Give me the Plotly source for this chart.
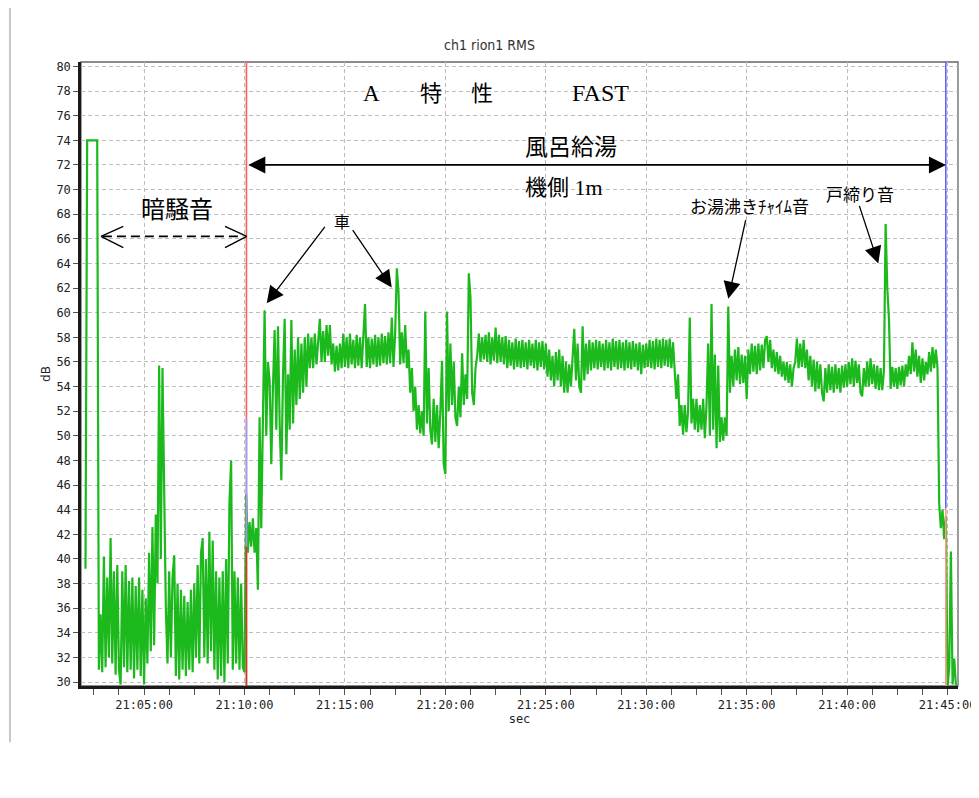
import pandas as pd
import plotly.graph_objects as go

# ---------------- data ----------------
# Sound level readings (dB), one list per minute of the clock (21:MM:00 .. 21:MM:55),
# 12 readings per list, 5 s apart. None = no reading.
BASE = pd.Timestamp("2024-01-01 21:00:00")
STEP_S = 5
FIRST_MINUTE = 2

m02 = [None, 39.2, 74.0, 74.0, 74.0, 74.0, 74.0, 74.0, 74.0, 31.0, 35.5, 30.8]
m03 = [40.2, 31.2, 38.5, 32.0, 41.7, 31.5, 39.0, 30.6, 39.5, 31.0, 29.8, 39.0]
m04 = [31.2, 39.5, 30.8, 38.2, 31.0, 38.5, 30.3, 37.8, 31.0, 38.5, 30.5, 37.5]
m05 = [29.8, 36.8, 31.5, 40.5, 32.5, 42.6, 33.0, 43.6, 38.0, 55.7, 40.0, 55.5]
m06 = [44.8, 36.0, 31.5, 39.0, 32.0, 38.5, 40.3, 30.5, 38.0, 30.2, 37.5, 31.0]
m07 = [37.0, 30.5, 36.5, 31.0, 37.5, 30.8, 38.0, 32.0, 39.5, 31.5, 40.5, 41.7]
m08 = [32.0, 40.0, 31.5, 42.2, 32.5, 41.5, 31.0, 39.0, 30.2, 38.5, 30.5, 39.0]
m09 = [30.0, 40.0, 31.5, 44.5, 48.0, 31.0, 39.0, 31.5, 38.5, 31.0, 38.0, 31.2]
m10 = [30.8, 45.3, 40.5, 43.0, 41.0, 43.3, 40.5, 42.5, 37.5, 51.5, 42.5, 50.0]
m11 = [60.2, 50.0, 56.0, 54.5, 47.7, 54.0, 58.6, 50.5, 58.9, 51.0, 46.4, 55.0]
m12 = [59.5, 48.5, 55.0, 50.5, 59.4, 51.0, 57.0, 52.5, 58.0, 53.0, 57.5, 53.5]
m13 = [58.0, 54.0, 58.3, 55.5, 58.0, 55.5, 58.3, 55.8, 58.0, 59.5, 56.0, 58.5]
m14 = [56.0, 59.0, 56.5, 59.0, 55.8, 57.5, 55.2, 57.3, 55.3, 57.5, 55.5, 58.3]
m15 = [55.6, 58.0, 55.5, 58.3, 55.8, 57.8, 55.5, 58.2, 55.7, 58.0, 55.5, 58.3]
m16 = [60.7, 55.6, 58.0, 55.5, 57.9, 55.8, 58.2, 55.6, 58.0, 55.7, 58.3, 55.9]
m17 = [58.1, 55.8, 58.4, 55.9, 59.6, 55.6, 58.3, 63.6, 61.7, 55.8, 58.4, 55.9]
m18 = [59.0, 55.5, 57.0, 53.5, 55.5, 52.0, 54.0, 50.5, 52.5, 50.2, 52.0, 50.0]
m19 = [60.1, 51.0, 55.5, 50.5, 49.3, 53.0, 49.5, 52.5, 49.0, 52.0, 56.1, 47.7]
m20 = [46.9, 60.1, 52.0, 57.5, 52.5, 56.0, 51.5, 50.8, 54.0, 51.5, 56.7, 52.5]
m21 = [55.0, 53.0, 63.2, 61.2, 53.5, 52.5, 55.5, 56.5, 58.3, 56.0, 58.0, 56.2]
m22 = [58.2, 56.0, 58.4, 55.8, 58.0, 56.1, 58.8, 55.9, 58.2, 56.0, 58.0, 55.8]
m23 = [58.1, 55.5, 57.8, 55.7, 57.6, 55.4, 57.9, 55.6, 57.7, 55.5, 57.8, 55.6]
m24 = [57.6, 55.4, 57.8, 55.7, 57.5, 55.5, 57.8, 55.3, 57.6, 55.6, 57.7, 55.4]
m25 = [57.5, 54.8, 57.0, 54.5, 56.5, 54.0, 56.8, 54.5, 57.0, 54.0, 56.5, 53.5]
m26 = [56.0, 53.5, 55.8, 54.0, 57.0, 58.7, 54.5, 57.5, 54.0, 53.5, 58.9, 54.5]
m27 = [57.5, 55.0, 57.8, 55.3, 57.6, 55.5, 57.8, 55.4, 57.7, 55.6, 57.5, 55.3]
m28 = [57.8, 55.5, 57.6, 55.3, 57.9, 55.6, 57.7, 55.4, 57.8, 55.5, 57.6, 55.3]
m29 = [57.8, 55.5, 57.6, 55.4, 57.7, 55.6, 57.5, 55.3, 57.6, 55.0, 57.4, 55.5]
m30 = [57.5, 55.6, 57.8, 55.5, 57.7, 55.4, 57.9, 55.6, 57.8, 55.5, 57.9, 55.7]
m31 = [57.8, 55.6, 57.9, 55.5, 57.6, 55.0, 53.0, 55.0, 50.8, 52.5, 50.1, 52.5]
m32 = [50.3, 52.0, 59.6, 51.0, 53.0, 50.5, 53.0, 50.3, 52.5, 50.5, 53.0, 49.8]
m33 = [52.5, 57.5, 50.0, 60.7, 50.5, 56.6, 49.0, 55.7, 49.5, 51.5, 49.6, 51.5]
m34 = [50.0, 60.5, 53.5, 56.5, 54.0, 57.0, 54.5, 57.2, 54.2, 56.6, 54.3, 56.5]
m35 = [53.0, 57.0, 55.0, 57.5, 55.2, 57.3, 55.0, 57.5, 55.3, 57.4, 55.5, 57.8]
m36 = [58.1, 56.0, 57.8, 55.5, 57.0, 55.2, 56.8, 55.0, 56.5, 54.8, 56.0, 54.5]
m37 = [56.0, 54.3, 55.8, 54.0, 55.5, 56.0, 57.9, 55.5, 57.5, 55.6, 57.8, 55.5]
m38 = [57.0, 54.5, 56.5, 54.0, 56.2, 53.6, 56.0, 53.8, 55.8, 53.5, 52.8, 55.5]
m39 = [53.5, 55.8, 53.7, 55.6, 53.5, 55.8, 53.8, 55.5, 53.5, 55.7, 53.9, 55.8]
m40 = [54.0, 56.0, 54.2, 56.3, 54.0, 56.1, 54.3, 55.8, 53.5, 53.2, 55.5, 54.0]
m41 = [56.0, 54.0, 56.3, 54.2, 55.8, 53.8, 55.7, 53.7, 55.5, 53.7, 55.3, 67.2]
m42 = [62.0, 59.5, 53.8, 55.6, 54.0, 55.5, 53.8, 55.6, 54.1, 55.7, 54.0, 55.8]
m43 = [54.8, 56.5, 55.0, 57.6, 55.2, 57.0, 54.8, 56.5, 54.3, 56.3, 54.5, 56.0]
m44 = [55.0, 56.8, 55.2, 57.2, 55.5, 57.0, 55.5, 44.5, 42.5, 44.0, 41.6, 43.5]
m45 = [29.6, 31.2, 40.6, 29.8, 31.9, 29.7, None, None, None, None, None, None]

minute_rows = [m02, m03, m04, m05, m06, m07, m08, m09, m10, m11, m12, m13, m14, m15,
               m16, m17, m18, m19, m20, m21, m22, m23, m24, m25, m26, m27, m28, m29,
               m30, m31, m32, m33, m34, m35, m36, m37, m38, m39, m40, m41, m42, m43,
               m44, m45]

# cursor positions (seconds after 21:00:00)
cursor_start_s = 605.8
cursor_end_s = 2694.8


def ts(sec):
    return (BASE + pd.Timedelta(seconds=sec)).strftime("%Y-%m-%d %H:%M:%S.%f")[:-3]


times, levels = [], []
for i, row in enumerate(minute_rows):
    minute = FIRST_MINUTE + i
    for k, v in enumerate(row):
        times.append(ts(minute * 60 + k * STEP_S))
        levels.append(v)

Y0, Y1 = 29.68, 80.36

fig = go.Figure()
fig.add_trace(go.Scatter(x=times, y=levels, mode="lines",
                         line=dict(color="#1cb91c", width=2.2),
                         connectgaps=False, hoverinfo="skip", showlegend=False))

JP = "Noto Sans CJK JP"
SERIF = "Liberation Serif, Noto Sans CJK JP"

shapes = []
# frame
shapes.append(dict(type="rect", xref="paper", yref="paper", x0=0, x1=1, y0=0, y1=1,
                   line=dict(color="#666666", width=1.3), layer="below"))
# page border
shapes.append(dict(type="line", xref="paper", yref="paper", x0=-0.081, x1=1.03,
                   y0=1.0913, y1=1.0913, line=dict(color="#c8c8c8", width=2)))
shapes.append(dict(type="line", xref="paper", yref="paper", x0=-0.081, x1=-0.081,
                   y0=1.0913, y1=-0.09, line=dict(color="#c8c8c8", width=2)))
# cursors
shapes.append(dict(type="line", x0=ts(cursor_start_s), x1=ts(cursor_start_s), y0=Y0, y1=Y1,
                   line=dict(color="#ff5e5e", width=1.6), layer="above"))
shapes.append(dict(type="line", x0=ts(cursor_start_s), x1=ts(cursor_start_s), y0=41.0, y1=51.3,
                   line=dict(color="#8da2ff", width=1.6), layer="above"))
shapes.append(dict(type="line", x0=ts(cursor_start_s), x1=ts(cursor_start_s), y0=Y0, y1=41.0,
                   line=dict(color="#b8461c", width=1.6), layer="above"))
shapes.append(dict(type="line", x0=ts(cursor_end_s), x1=ts(cursor_end_s), y0=44.1, y1=Y1,
                   line=dict(color="#6262ff", width=1.6), layer="above"))
shapes.append(dict(type="line", x0=ts(cursor_end_s), x1=ts(cursor_end_s), y0=Y0, y1=44.1,
                   line=dict(color="#ff9a80", width=1.6), layer="above"))
# dashed background-noise arrow with open heads
shapes.append(dict(type="line", x0=ts(177), x1=ts(596), y0=66.2, y1=66.2,
                   line=dict(color="black", width=1.8, dash="9px,5px")))
for tip, arm in ((171.4, 237.9), (606.6, 541.8)):
    for ay in (67.01, 65.28):
        shapes.append(dict(type="line", x0=ts(tip), x1=ts(arm), y0=66.2, y1=ay,
                           line=dict(color="black", width=1.4)))

annotations = []


def txt(sec, y, s, size, font=JP, xanchor="center"):
    annotations.append(dict(x=ts(sec), y=y, text=s, showarrow=False, xanchor=xanchor,
                            yanchor="middle", font=dict(family=font, size=size, color="black")))


def arrow(tail_s, tail_y, tip_s, tip_y, width=1.3, size=2.6, side="end"):
    annotations.append(dict(x=ts(tip_s), y=tip_y, ax=ts(tail_s), ay=tail_y,
                            xref="x", yref="y", axref="x", ayref="y", text="",
                            showarrow=True, arrowhead=2, arrowsize=size, arrowwidth=width,
                            arrowcolor="black", arrowside=side, standoff=0, startstandoff=0))


txt(396.9, 68.58, "暗騒音", 24)
txt(979.4, 77.81, "A", 23, SERIF)
txt(1157.0, 77.81, "特", 22, SERIF)
txt(1309.4, 77.81, "性", 22, SERIF)
txt(1661.9, 77.81, "FAST", 24, SERIF)
txt(1431.9, 73.43, "風呂給湯", 23, SERIF, xanchor="left")
txt(1431.9, 70.18, "機側 1m", 22, SERIF, xanchor="left")
txt(889.7, 67.44, "車", 16)
txt(2107.0, 68.72, "お湯沸きﾁｬｲﾑ音", 17)
txt(2438.6, 69.72, "戸締り音", 17)

arrow(843.4, 67.09, 666.3, 60.76)
arrow(920.2, 66.83, 1039.7, 62.04)
arrow(2098.0, 67.64, 2045.1, 61.14)
arrow(2435.1, 68.80, 2493.2, 63.99)
arrow(606.6, 72.0, 2695.4, 72.0, width=1.8, size=1.9, side="end+start")

TICKFONT = dict(family="DejaVu Sans Mono", size=12, color="#222222")

# the page adds an 8 px body margin, so the figure is shifted 8 px right and down
fig.update_layout(
    width=971, height=782,
    margin=dict(l=73, r=21, t=54, b=104),
    paper_bgcolor="white", plot_bgcolor="white",
    title=dict(text="ch1 rion1 RMS", x=(489.5 - 8) / 971, xref="container", xanchor="center",
               y=1 - 37 / 782, yref="container", yanchor="middle",
               font=dict(family="Liberation Sans Narrow, DejaVu Sans Condensed, sans-serif",
                         size=14, color="#333333")),
    shapes=shapes, annotations=annotations,
    showlegend=False,
)
fig.update_xaxes(
    type="date", range=[ts(111.6), ts(2731.2)], automargin=False,
    tickformat="%H:%M:%S", dtick=300000, tick0=ts(0),
    showgrid=True, gridcolor="#bdbdbd", griddash="4px,3px", gridwidth=1,
    showline=True, linecolor="#1a1a1a", linewidth=2.5,
    ticks="outside", ticklen=6, tickcolor="#555555", tickwidth=1,
    minor=dict(dtick=75000, tick0=ts(0), ticks="outside", ticklen=6,
               tickcolor="#555555", showgrid=False),
    tickfont=TICKFONT, zeroline=False,
    title=dict(text="sec", standoff=4, font=dict(family="DejaVu Sans Mono", size=12, color="#222222")),
)
fig.update_yaxes(
    range=[Y0, Y1], dtick=2, tick0=0, automargin=False,
    showgrid=True, gridcolor="#bdbdbd", griddash="4px,3px", gridwidth=1,
    showline=True, linecolor="#1a1a1a", linewidth=2.5,
    ticks="outside", ticklen=5, tickcolor="#555555", tickwidth=1,
    tickfont=TICKFONT, zeroline=False,
    title=dict(text="dB", standoff=4, font=dict(family="DejaVu Sans", size=12, color="#222222")),
)

fig.write_html("out.html")
